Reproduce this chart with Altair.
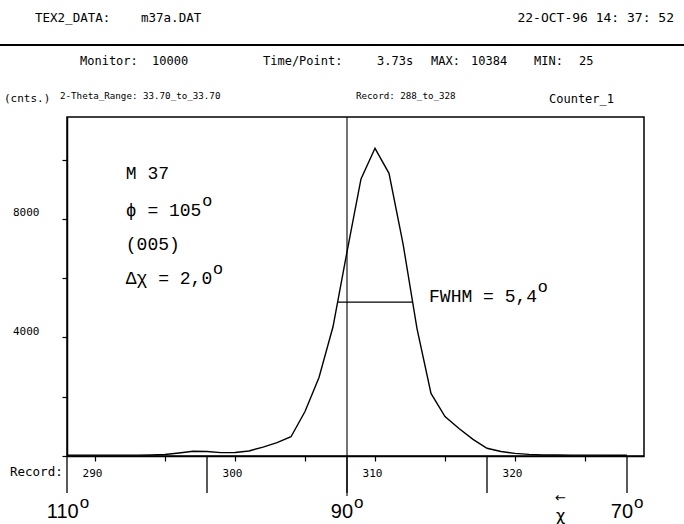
import altair as alt
import pandas as pd

# ---------------- data ----------------
records = list(range(288, 329))
counts = [30, 30, 30, 30, 28, 30, 35,
          50, 100, 160, 150, 115, 120, 170, 300, 450, 650,
          1500, 2650, 4360, 6890, 9350, 10384, 9540, 7170, 4300, 2110, 1330, 930,
          560, 260, 150, 90, 55, 35, 35, 30, 30, 28, 26, 25]

y_ticks = [0, 2000, 4000, 6000, 8000, 10000]
y_labelled = [4000, 8000]
x_ticks = [290, 295, 300, 305, 310, 315, 320, 325]
chi_records = [288, 298, 308, 318, 328]
chi_degrees = [110, 100, 90, 80, 70]
chi_labelled = [110, 90, 70]
center_record = 308
fwhm_left, fwhm_right, half_max = 307.35, 312.7, 5192

annot_text = ["M 37", "ϕ = 105", "(005)", "Δχ = 2,0"]
annot_degree = [False, True, False, True]
fwhm_text = "FWHM = 5,4"

header_text = ["TEX2_DATA:", "m37a.DAT", "22-OCT-96 14: 37: 52",
               "Monitor:", "10000", "Time/Point:", "3.73s", "MAX:", "10384", "MIN:", "25",
               "(cnts.)", "2-Theta_Range: 33.70_to_33.70", "Record: 288_to_328", "Counter_1"]

# ---------------- layout ----------------
OX, OY = 67, 117            # plot origin in page pixels
W, H = 577, 339
PX_PER_REC = 14.0
X_DOM = [288, 288 + W / PX_PER_REC]
Y_DOM = [0, 11440]
PX_PER_COUNT = H / Y_DOM[1]

MONO = "DejaVu Sans Mono"
TYPE = "Liberation Mono"
SANS = "Liberation Sans"

xs = alt.Scale(domain=X_DOM, nice=False, zero=False)
ys = alt.Scale(domain=Y_DOM, nice=False, zero=False)

df = pd.DataFrame({"record": records, "counts": counts})

line = alt.Chart(df).mark_line(color="black", strokeWidth=1.4).encode(
    x=alt.X("record:Q", scale=xs, title=None,
            axis=alt.Axis(values=x_ticks, format="d",
                          labelExpr="datum.value % 10 == 0 ? datum.label : ''",
                          tickSize=5, labelPadding=6, labelOffset=-3,
                          labelFont=MONO, labelFontSize=11, grid=False)),
    y=alt.Y("counts:Q", scale=ys, title=None,
            axis=alt.Axis(values=y_ticks, format="d",
                          labelExpr="datum.value == 4000 || datum.value == 8000 ? datum.label : ''",
                          tickSize=5, labelPadding=23, labelOffset=-6,
                          labelFont=MONO, labelFontSize=11, grid=False)),
)

# chi ticks below the axis
chi_df = pd.DataFrame({"record": chi_records, "deg": chi_degrees})
chi_ticks = alt.Chart(chi_df).mark_rule(color="black", strokeWidth=1.3).encode(
    x=alt.X("record:Q", scale=xs), y=alt.value(H), y2=alt.value(H + 37))

center_df = pd.DataFrame({"record": [center_record]})
center_line = alt.Chart(center_df).mark_rule(color="black", strokeWidth=1.1).encode(
    x=alt.X("record:Q", scale=xs), y=alt.value(0), y2=alt.value(H + 40))

# FWHM bar
fw_df = pd.DataFrame({"x1": [fwhm_left], "x2": [fwhm_right], "y": [half_max]})
fw_line = alt.Chart(fw_df).mark_rule(color="black", strokeWidth=1.1).encode(
    x=alt.X("x1:Q", scale=xs), x2="x2:Q", y=alt.Y("y:Q", scale=ys))

# annotations inside the plot
ann_x = 292.2
ann_y_px = [174, 211, 245, 279]          # text centres (page px)
ann_y = [(OY + H - p) / PX_PER_COUNT for p in ann_y_px]
ann_df = pd.DataFrame({"t": annot_text, "x": [ann_x] * 4, "y": ann_y})
ann = alt.Chart(ann_df).mark_text(align="left", baseline="middle", font=TYPE,
                                  fontSize=18, color="black").encode(
    x=alt.X("x:Q", scale=xs), y=alt.Y("y:Q", scale=ys), text="t:N")

CHAR = 0.6 * 18
sup_rows = [(ann_x + (len(t) * CHAR + 1) / PX_PER_REC, y) for t, y, d in zip(annot_text, ann_y, annot_degree) if d]
fw_x = 313.86
fw_y = (OY + H - 297) / PX_PER_COUNT
sup_rows.append((fw_x + (len(fwhm_text) * CHAR + 1) / PX_PER_REC, fw_y))
sup_df = pd.DataFrame({"x": [r[0] for r in sup_rows], "y": [r[1] for r in sup_rows], "t": ["o"] * len(sup_rows)})
sups = alt.Chart(sup_df).mark_text(align="left", baseline="middle", font=SANS, fontSize=17,
                                   dy=-10, color="black").encode(
    x=alt.X("x:Q", scale=xs), y=alt.Y("y:Q", scale=ys), text="t:N")

fwt_df = pd.DataFrame({"t": [fwhm_text], "x": [fw_x], "y": [fw_y]})
fwt = alt.Chart(fwt_df).mark_text(align="left", baseline="middle", font=TYPE,
                                  fontSize=18, color="black").encode(
    x=alt.X("x:Q", scale=xs), y=alt.Y("y:Q", scale=ys), text="t:N")

# chi degree labels under the axis
DIG = 11.1
lab_rows = []
for r, d in zip(chi_records, chi_degrees):
    if d in chi_labelled:
        s = str(d)
        right = r + (len(s) * DIG / 2 - 5) / PX_PER_REC
        lab_rows.append((s, right))
chi_lab_df = pd.DataFrame({"t": [a for a, b in lab_rows], "x": [b for a, b in lab_rows]})
chi_labels = alt.Chart(chi_lab_df).mark_text(align="right", baseline="middle", font=SANS,
                                             fontSize=20, color="black").encode(
    x=alt.X("x:Q", scale=xs), y=alt.value(512 - OY), text="t:N")
chi_sup = alt.Chart(chi_lab_df.assign(o="o")).mark_text(align="left", baseline="middle", font=SANS,
                                                     fontSize=17, dx=1, color="black").encode(
    x=alt.X("x:Q", scale=xs), y=alt.value(503 - OY), text="o:N")

chi_sym_df = pd.DataFrame({"x": [323.25], "t": ["χ"], "a": ["←"]})
chi_sym = alt.Chart(chi_sym_df).mark_text(align="center", baseline="middle", font="DejaVu Sans",
                                          fontSize=16, color="black").encode(
    x=alt.X("x:Q", scale=xs), y=alt.value(516 - OY), text="t:N")
chi_arrow = alt.Chart(chi_sym_df).mark_text(align="center", baseline="middle", font="DejaVu Sans",
                                            fontSize=13, color="black").encode(
    x=alt.X("x:Q", scale=xs), y=alt.value(498 - OY), text="a:N")

# header text (page pixel positions)
header_pos = [(35, 18, 12.5, "left"), (141, 18, 12.5, "left"), (674, 18, 13, "right"),
              (80, 61, 12, "left"), (152, 61, 12, "left"), (263, 61, 12, "left"),
              (377, 61, 12, "left"), (431, 61, 12, "left"), (471, 61, 12, "left"),
              (534, 61, 12, "left"), (579, 61, 12, "left"),
              (4, 99, 11, "left"), (60, 96, 9.2, "left"), (356, 96, 9.2, "left"),
              (549, 99, 12, "left")]
headers = []
for t, (px, py, fs, al) in zip(header_text, header_pos):
    headers.append(alt.Chart(pd.DataFrame({"t": [t]})).mark_text(
        align=al, baseline="middle", font=MONO, fontSize=fs, color="black").encode(
        x=alt.value(px - OX), y=alt.value(py - OY), text="t:N"))

rec_lab = alt.Chart(pd.DataFrame({"t": ["Record:"]})).mark_text(
    align="left", baseline="middle", font=MONO, fontSize=12.5, color="black").encode(
    x=alt.value(10 - OX), y=alt.value(472 - OY), text="t:N")

hr = alt.Chart(pd.DataFrame({"t": [0]})).mark_rule(color="black", strokeWidth=2).encode(
    x=alt.value(-OX), x2=alt.value(684 - OX), y=alt.value(45 - OY))

chart = alt.layer(line, center_line, chi_ticks, fw_line, ann, sups, fwt,
                  chi_labels, chi_sup, chi_sym, chi_arrow, rec_lab, hr, *headers).properties(
    width=W, height=H,
    padding={"left": OX, "top": OY, "right": 684 - OX - W, "bottom": 524 - OY - H},
    autosize=alt.AutoSizeParams(type="none"),
    background="white",
).configure_view(stroke="black", strokeWidth=1.5).configure_axis(
    domainColor="black", domainWidth=1.5, tickColor="black", tickWidth=1.2, labelColor="black")

chart.save("out.html", embed_options={"renderer": "svg", "actions": False})
